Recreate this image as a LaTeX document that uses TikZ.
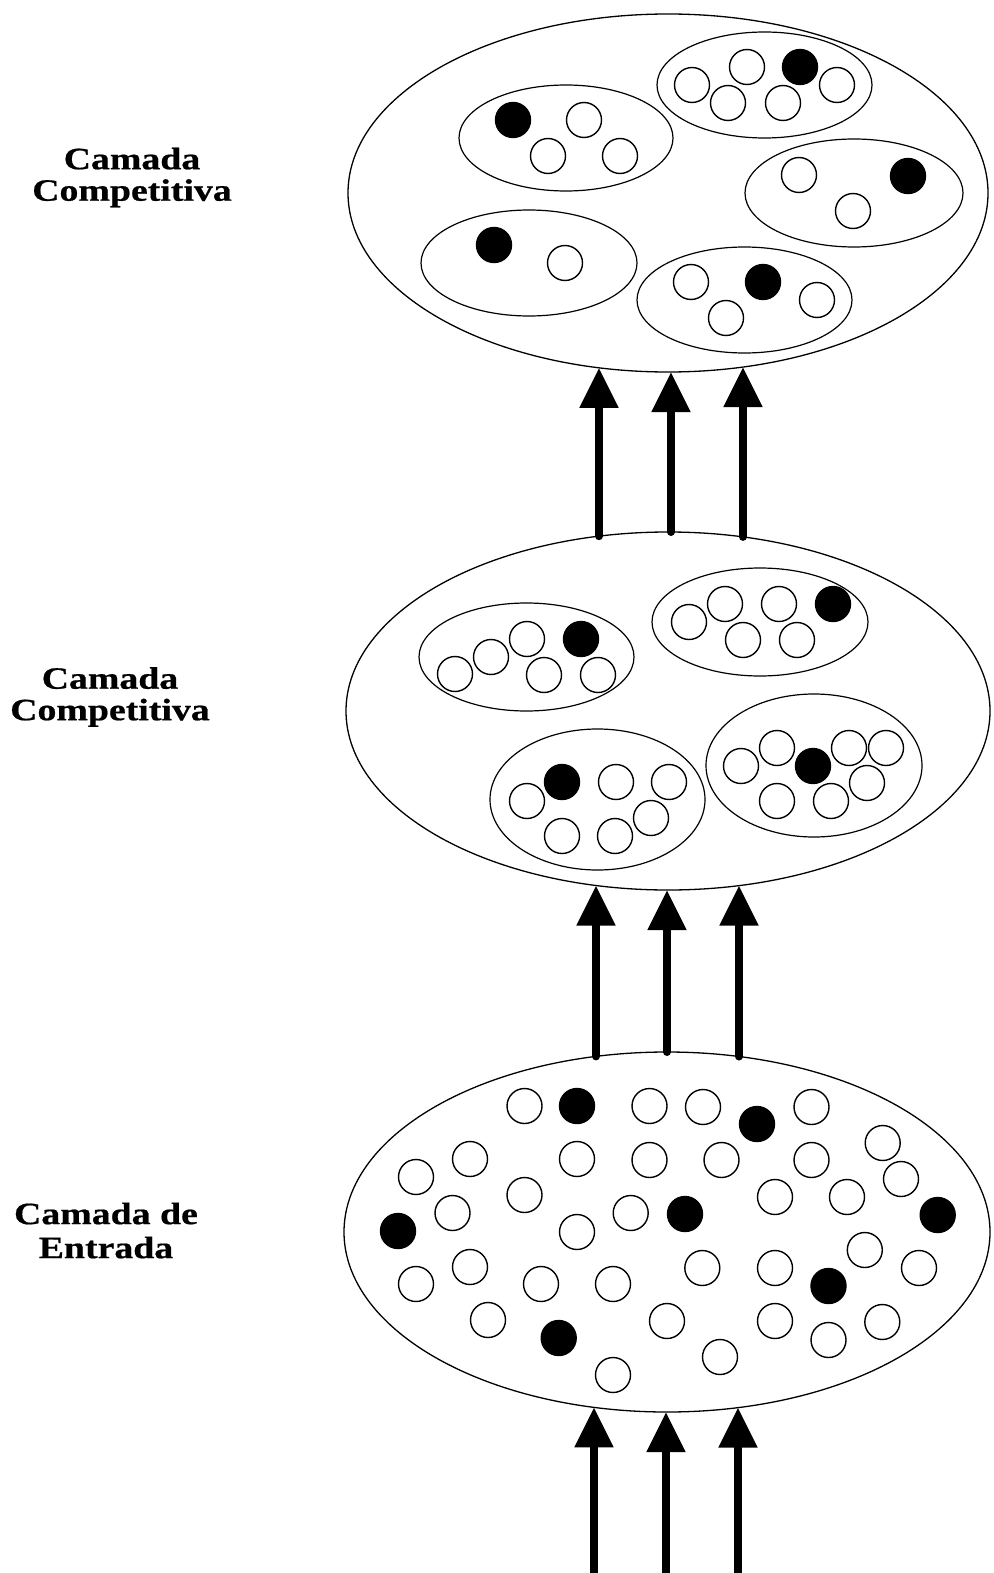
\documentclass[tikz,border=0pt]{standalone}
\usepackage{fontspec}
\setmainfont{Liberation Serif}
\newfontfamily\labelfont{Liberation Serif}[FakeStretch=1.22, FakeBold=0.6]
\usetikzlibrary{shapes.geometric,arrows.meta}

\tikzset{
  layer/.style={ellipse, draw, line width=1.3pt, inner sep=0pt},
  group/.style={ellipse, draw, line width=1.2pt, inner sep=0pt},
  unit/.style={circle, draw, line width=1.4pt, minimum size=35pt, inner sep=0pt},
  winner/.style={unit, fill=black},
  feed/.style={line width=8pt, -{Triangle[width=37pt,length=40pt]}},
  caption/.style={align=center, inner sep=0pt,
    font=\labelfont\bfseries\fontsize{31}{31.5}\selectfont}
}

\begin{document}
\begin{tikzpicture}[x=1pt, y=-1pt]
\useasboundingbox (0,0) rectangle (993,1573);
\fill[white] (0,0) rectangle (993,1573);

% ---------- labels ----------
\node[caption] (lblTop) at (132,177.5) {Camada\\Competitiva};
\node[caption] (lblMid) at (110,697) {Camada\\Competitiva};
\node[caption] (lblIn)  at (106,1230.5) {Camada de\\[2.5pt]Entrada};

% ---------- upper competitive layer ----------
\node[layer, minimum width=640pt, minimum height=358pt] (top) at (668,193) {};
\node[group, minimum width=214pt, minimum height=106pt] (tg1) at (566,138) {};
\node[group, minimum width=215pt, minimum height=106pt] (tg2) at (764.5,85) {};
\node[group, minimum width=218pt, minimum height=108pt] (tg3) at (854,193) {};
\node[group, minimum width=216pt, minimum height=106pt] (tg4) at (529,263) {};
\node[group, minimum width=215pt, minimum height=106pt] (tg5) at (744.5,300) {};

\foreach \px/\py [count=\i] in {584/120, 548/156, 620/156,
    692/85, 747/67, 837/85, 728/103, 783/103,
    799/175, 853/211,
    565/263,
    691/282, 817/300, 726/318}
  \node[unit] (tu\i) at (\px,\py) {};
\foreach \px/\py [count=\i] in {513/120, 800/67, 908/176, 494/245, 763/282}
  \node[winner] (tw\i) at (\px,\py) {};

% ---------- lower competitive layer ----------
\node[layer, minimum width=644pt, minimum height=358pt] (mid) at (668,711) {};
\node[group, minimum width=215pt, minimum height=108pt] (mg1) at (526.5,657) {};
\node[group, minimum width=216pt, minimum height=108pt] (mg2) at (760,622) {};
\node[group, minimum width=215pt, minimum height=141pt] (mg3) at (597.5,799.5) {};
\node[group, minimum width=216pt, minimum height=143pt] (mg4) at (814,765.5) {};

\foreach \px/\py [count=\i] in {455/674, 491/657, 527/639, 544/675, 598/675,
    689/622, 725/604, 779/604, 743/640, 797/640,
    527/801, 616/782, 669/782, 651/818, 562/836, 615/836,
    741/766, 777/748, 849/748, 886/748, 867/783, 777/801, 831/801}
  \node[unit] (mu\i) at (\px,\py) {};
\foreach \px/\py [count=\i] in {581/639, 833/604, 562/782, 813/766}
  \node[winner] (mw\i) at (\px,\py) {};

% ---------- input layer ----------
\node[layer, minimum width=646pt, minimum height=360pt] (inp) at (667,1232) {};

\foreach \px/\py [count=\i] in {524.5/1106, 649.5/1106, 703/1107, 811.5/1107,
    882.7/1143, 470/1159, 577/1159, 649.5/1160, 721.5/1160, 811.5/1160,
    416/1177, 901/1179, 524.5/1195, 775/1197, 847/1197, 452.5/1213,
    630.7/1213, 577/1232, 864.8/1250, 470/1267, 702.3/1268, 775/1268,
    919/1268, 416/1284, 541/1284, 613/1284, 488/1320, 667/1321,
    775/1321, 882.3/1322, 828.5/1340, 720/1357, 613/1375}
  \node[unit] (iu\i) at (\px,\py) {};
\foreach \px/\py [count=\i] in {577/1106, 757/1124, 685/1214, 937.7/1215,
    398/1231, 828.5/1286, 558.7/1338}
  \node[winner] (iw\i) at (\px,\py) {};

% ---------- arrow end points on the layer borders ----------
\coordinate (a1) at (599,536.2);  \coordinate (b1) at (599,367.8);
\coordinate (a2) at (671,532);    \coordinate (b2) at (671,372);
\coordinate (a3) at (743,536.9);  \coordinate (b3) at (743,367.0);

\coordinate (c1) at (596,1056.4); \coordinate (d1) at (596,885.5);
\coordinate (c2) at (667,1052);   \coordinate (d2) at (667,890);
\coordinate (c3) at (739,1056.5); \coordinate (d3) at (739,885.6);

\coordinate (e1) at (594,1573);   \coordinate (f1) at (594,1407.3);
\coordinate (e2) at (666,1573);   \coordinate (f2) at (666,1412);
\coordinate (e3) at (738,1573);   \coordinate (f3) at (738,1407.6);

% ---------- feed-forward arrows ----------
\foreach \i in {1,2,3} {
  \draw[feed, line cap=round] (a\i) -- (b\i);
  \draw[feed, line cap=round] (c\i) -- (d\i);
  \draw[feed] (e\i) -- (f\i);
}
\end{tikzpicture}
\end{document}
